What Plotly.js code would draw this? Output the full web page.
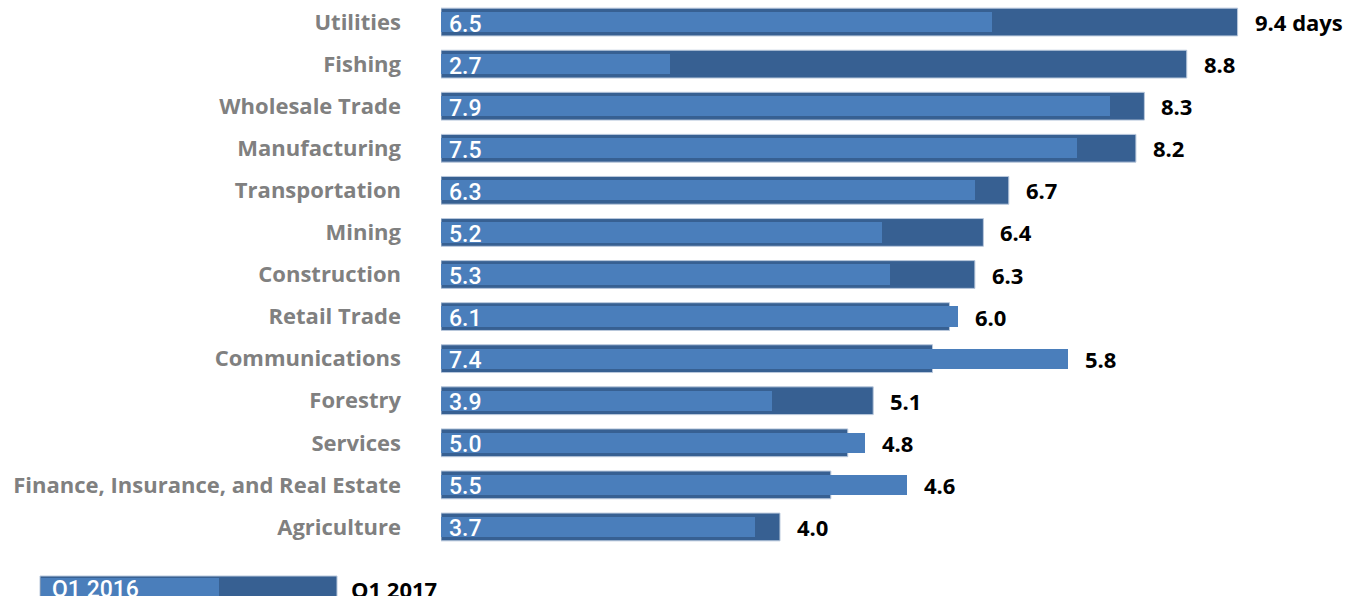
<!DOCTYPE html>
<html>
<head>
<meta charset="utf-8">
<script src="https://cdn.plot.ly/plotly-3.0.1.min.js"></script>
<style>html,body{margin:0;padding:0;background:#fff;overflow:hidden}#chart{width:1365px;height:596px}</style>
</head>
<body>
<div id="chart"></div>
<script>
const categories = ["Utilities","Fishing","Wholesale Trade","Manufacturing","Transportation","Mining","Construction","Retail Trade","Communications","Forestry","Services","Finance, Insurance, and Real Estate","Agriculture"];
const q1_2016 = [6.5,2.7,7.9,7.5,6.3,5.2,5.3,6.1,7.4,3.9,5.0,5.5,3.7];
const q1_2017 = [9.4,8.8,8.3,8.2,6.7,6.4,6.3,6.0,5.8,5.1,4.8,4.6,4.0];
const seriesNames = ["Q1 2016","Q1 2017"];
const unit = " days";

const LIGHT = "#4a7ebb";
const DARK = "#376092";
const FONT = "'Open Sans', 'Noto Sans', sans-serif";
const FONT_IN = "Roboto, 'Open Sans', sans-serif";

const W = 1365, H = 596;
const margin = {l:441, r:0, t:1, b:48};
const plotW = W - margin.l - margin.r;
const pxPerUnit = 796.6/9.4;
const xMax = plotW/pxPerUnit;
const plotH = H - margin.t - margin.b;

const traces = [
  {type:"bar", orientation:"h", name:seriesNames[1], y:categories, x:q1_2017,
   marker:{color:DARK, line:{color:"#b9c8dc", width:1}}, width:0.66, hoverinfo:"x+y"},
  {type:"bar", orientation:"h", name:seriesNames[0], y:categories, x:q1_2016,
   marker:{color:LIGHT, line:{width:0}}, width:0.48, hoverinfo:"x+y"}
];

const annotations = [];
categories.forEach((c,i)=>{
  annotations.push({x:0, y:c, xref:"x", yref:"y", text:q1_2016[i].toFixed(1), showarrow:false,
    xanchor:"left", yanchor:"middle", xshift:6, yshift:-2,
    font:{family:FONT_IN, size:23, color:"#ffffff", weight:500}});
  annotations.push({x:Math.max(q1_2016[i], q1_2017[i]), y:c, xref:"x", yref:"y",
    text:q1_2017[i].toFixed(1) + (i===0?unit:""), showarrow:false,
    xanchor:"left", yanchor:"middle", xshift:15, yshift:0,
    font:{family:FONT, size:22, color:"#000000", weight:700}});
});

// legend (bottom-left mini bars)
const px2x = p => (p - margin.l)/plotW;
const py2y = p => (H - margin.b - p)/plotH;
const shapes = [
  {type:"rect", xref:"paper", yref:"paper", x0:px2x(40), x1:px2x(337), y0:py2y(605), y1:py2y(576),
   fillcolor:DARK, line:{color:"#b9c8dc", width:1}, layer:"above"},
  {type:"rect", xref:"paper", yref:"paper", x0:px2x(41), x1:px2x(219), y0:py2y(605), y1:py2y(578),
   fillcolor:LIGHT, line:{width:0}, layer:"above"}
];
annotations.push({xref:"paper", yref:"paper", x:px2x(50), y:py2y(589), text:seriesNames[0], showarrow:false,
  xanchor:"left", yanchor:"middle", font:{family:FONT_IN, size:23, color:"#ffffff", weight:500}});
annotations.push({xref:"paper", yref:"paper", x:px2x(349), y:py2y(589), text:seriesNames[1], showarrow:false,
  xanchor:"left", yanchor:"middle", font:{family:FONT, size:22, color:"#000000", weight:700}});

const layout = {
  width:W, height:H, margin:margin, paper_bgcolor:"#fff", plot_bgcolor:"#fff",
  barmode:"overlay", showlegend:false, bargap:0,
  xaxis:{range:[0,xMax], visible:false, fixedrange:true},
  yaxis:{type:"category", categoryorder:"array", categoryarray:categories, autorange:"reversed",
    showgrid:false, zeroline:false, showline:false, ticks:"", ticklabelstandoff:39,
    tickfont:{family:FONT, size:22, color:"#808080", weight:700}, fixedrange:true},
  annotations:annotations, shapes:shapes
};

Plotly.newPlot("chart", traces, layout, {displayModeBar:false, staticPlot:true});
</script>
</body>
</html>
